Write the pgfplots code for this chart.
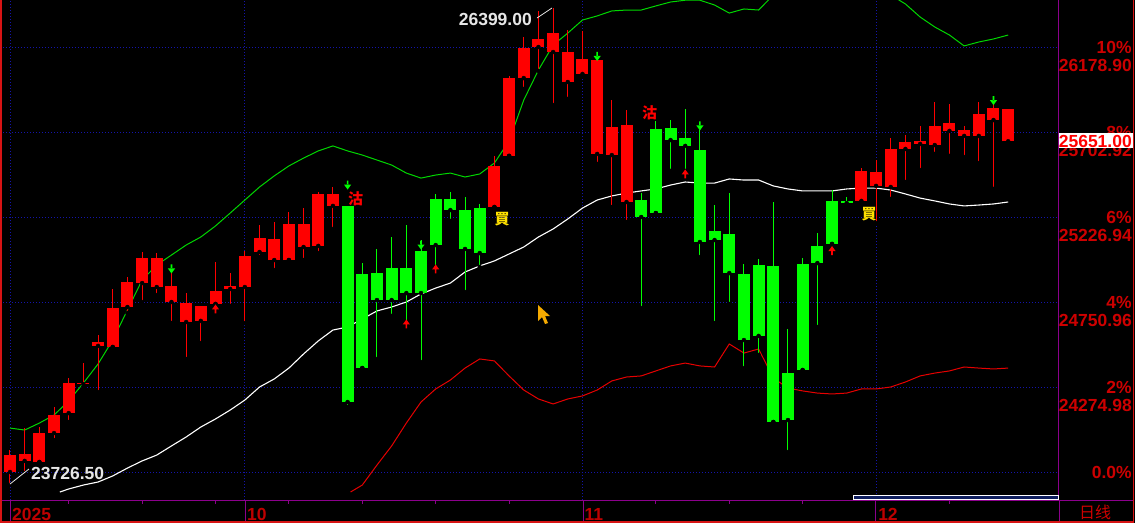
\documentclass[border=0pt]{standalone}
\usepackage{fontspec}
\setmainfont{Liberation Sans}
\newfontfamily\cjk{Noto Sans CJK SC}
\usepackage{pgfplots}
\usepackage{pgfplotstable}
\pgfplotsset{compat=1.18}

\definecolor{upred}{RGB}{255,0,0}
\definecolor{dngreen}{RGB}{0,255,0}
\definecolor{bandgreen}{RGB}{0,215,0}
\definecolor{bandred}{RGB}{230,0,0}
\definecolor{gridblue}{RGB}{20,20,170}
\definecolor{axpurple}{RGB}{140,0,140}
\definecolor{lblred}{RGB}{205,0,0}
\definecolor{monthred}{RGB}{190,0,0}
\definecolor{framered}{RGB}{215,20,20}
\definecolor{sigyellow}{RGB}{255,225,0}
\definecolor{barnavy}{RGB}{15,30,95}
\definecolor{lblgray}{RGB}{230,230,230}
\definecolor{cursor}{RGB}{245,170,0}

% signal arrows
\pgfdeclareplotmark{dnarrow}{%
  \pgfpathrectangle{\pgfpoint{-0.8pt}{0pt}}{\pgfpoint{1.6pt}{4.5pt}}%
  \pgfpathmoveto{\pgfpoint{-3.6pt}{0.5pt}}%
  \pgfpathlineto{\pgfpoint{3.6pt}{0.5pt}}%
  \pgfpathlineto{\pgfpoint{0pt}{-4.5pt}}%
  \pgfpathclose
  \pgfusepathqfill}
\pgfdeclareplotmark{uparrow}{%
  \pgfpathrectangle{\pgfpoint{-0.8pt}{-4.5pt}}{\pgfpoint{1.6pt}{4.5pt}}%
  \pgfpathmoveto{\pgfpoint{-3.6pt}{-0.5pt}}%
  \pgfpathlineto{\pgfpoint{3.6pt}{-0.5pt}}%
  \pgfpathlineto{\pgfpoint{0pt}{4.5pt}}%
  \pgfpathclose
  \pgfusepathqfill}

% i low bodylow bodyhigh high
\pgfplotstableread{
i lo bl bh hi
0 23726.5 23799 23894 23922
1 23793 23861 23900 24045
2 23855 23855 24017 24051
3 23978 24017 24118 24163
4 24079 24129 24297 24325
5 24275 24291 24299 24409
6 24247 24505 24527 24566
7 24499 24499 24717 24824
8 24689 24723 24863 24891
9 24751 24857 24997 25031
10 24790 24835 24997 25025
11 24633 24751 24841 24913
12 24432 24639 24745 24801
13 24521 24645 24729 24729
14 24740 24740 24813 24975
15 24729 24824 24841 24913
16 24633 24835 25009 25037
17 25003 25031 25109 25182
18 24930 24986 25104 25199
19 24986 24986 25188 25255
20 24986 25059 25188 25277
21 25025 25065 25356 25367
22 25160 25289 25356 25395
33 25283 25283 25513 25569
34 25569 25569 26005 26017
35 25944 26005 26173 26235
36 26045 26179 26224 26381
37 25854 26151 26257 26399
38 25888 25983 26151 26274
39 26017 26028 26112 26269
40 25524 25580 26106 26106
41 25283 25574 25731 25882
42 25199 25311 25742 25826
58 25305 25317 25485 25501
59 25193 25401 25479 25546
60 25328 25395 25608 25669
61 25423 25608 25647 25686
62 25490 25636 25653 25737
63 25580 25630 25737 25871
64 25569 25709 25753 25860
65 25563 25681 25714 25737
66 25529 25681 25804 25871
67 25384 25770 25837 25871
68 25641 25651 25832 25832
}\redcandles

\pgfplotstableread{
i lo bl bh hi
23 24163 24191 25289 25289
24 24381 24381 24908 24969
25 24432 24762 24913 25048
26 24673 24762 24941 25115
27 24605 24801 24941 25182
28 24415 24801 25037 25098
29 24947 25070 25328 25356
30 25205 25266 25328 25367
31 24807 25048 25266 25339
32 24947 25025 25277 25300
43 24717 25227 25322 25361
44 25249 25249 25720 25765
45 25485 25658 25725 25770
46 25485 25625 25669 25832
47 25003 25087 25602 25714
48 24633 25098 25149 25294
49 24740 24913 25132 25361
50 24381 24538 24908 24964
51 24454 24561 24958 24992
52 24079 24079 24953 25311
53 23911 24090 24353 24600
54 24370 24370 24964 24997
55 24611 24969 25065 25137
56 25076 25076 25317 25378
57 25289 25305 25317 25339
}\greencandles

\tikzset{pxtext/.style={inner sep=0pt, font=\fontsize{17.5}{18}\selectfont\bfseries}}
% a candle part is one error bar drawn upward from its lower end
\pgfplotsset{
  wick/.style={only marks, mark=none, error bars/y dir=plus, error bars/y explicit,
               error bars/error mark=none,
               error bars/error bar style={#1, line width=1pt}},
  body/.style={only marks, mark=none, error bars/y dir=plus, error bars/y explicit,
               error bars/error mark=none,
               error bars/error bar style={#1, line width=12pt}}
}

\begin{document}
\begin{tikzpicture}
\fill[black] (0,0) rectangle (1135pt,523pt);

\begin{axis}[
    at={(0pt,23pt)}, anchor=south west,
    scale only axis, width=1059pt, height=500pt,
    xmin=-0.681, xmax=71.46,
    ymin=23642.2, ymax=26442.2,
    axis x line*=bottom, axis y line*=right,
    axis line style={axpurple, line width=1pt},
    major tick length=0pt,
    xtick={0,16,39,59},
    xticklabels={2025,10,11,12},
    ytick={23799,24274.98,24750.96,25226.94,25702.92,26178.90},
    yticklabels={0.0\%,2\%,4\%,6\%,8\%,10\%},
    extra y ticks={24274.98,24750.96,25226.94,25702.92,26178.90},
    extra y tick labels={24274.98,24750.96,25226.94,25702.92,26178.90},
    extra y tick style={grid=none, yticklabel style={yshift=-18pt}},
    grid=major,
    grid style={gridblue, dash pattern=on 1pt off 2pt, line width=0.9pt},
    xticklabel style={pxtext, anchor=north west, xshift=2pt, yshift=-8pt, text=monthred},
    yticklabel style={pxtext, anchor=east, xshift=73pt, text=lblred},
  ]

  % bands
  \addplot[bandgreen, line width=1pt, mark=none] coordinates {
    (0,24045) (1,24034) (2,24073) (3,24118) (4,24197) (5,24297) (6,24404)
    (7,24538) (8,24706) (9,24874) (10,24958) (11,25014) (12,25070) (13,25115)
    (14,25177) (15,25249) (16,25322) (17,25395) (18,25457) (19,25513) (20,25557)
    (21,25597) (22,25625) (23,25597) (24,25574) (25,25546) (26,25518) (27,25473)
    (28,25445) (29,25462) (30,25473) (31,25451) (32,25468) (33,25529) (34,25653)
    (35,25882) (36,26050) (37,26190) (38,26257) (39,26330) (40,26353) (41,26381)
    (42,26386) (43,26386) (44,26409) (45,26431) (46,26441) (47,26441) (48,26414)
    (49,26369) (50,26392) (51,26386) (52,26470) (53,26526) (54,26582) (55,26610)
    (56,26610) (57,26599) (58,26565) (59,26526) (60,26470) (61,26420) (62,26347)
    (63,26291) (64,26246) (65,26185) (66,26207) (67,26224) (68,26246)
  };
  \addplot[white, line width=1.1pt, mark=none] coordinates {
    (3.4,23687) (4,23704) (5,23726) (6,23743) (7,23777) (8,23821) (9,23861)
    (10,23894) (11,23945) (12,23995) (13,24051) (14,24096) (15,24146) (16,24202)
    (17,24275) (18,24320) (19,24381) (20,24460) (21,24533) (22,24594) (23,24611)
    (24,24656) (25,24701) (26,24723) (27,24751) (28,24796) (29,24829) (30,24857)
    (31,24919) (32,24953) (33,24981) (34,25020) (35,25059) (36,25115) (37,25160)
    (38,25216) (39,25277) (40,25322) (41,25345) (42,25361) (43,25373) (44,25384)
    (45,25406) (46,25423) (47,25417) (48,25417) (49,25440) (50,25434) (51,25434)
    (52,25401) (53,25384) (54,25373) (55,25373) (56,25373) (57,25384) (58,25389)
    (59,25389) (60,25378) (61,25356) (62,25333) (63,25317) (64,25300) (65,25289)
    (66,25294) (67,25300) (68,25311)
  };
  \addplot[bandred, line width=1pt, mark=none] coordinates {
    (23.2,23687) (24,23726) (25,23838) (26,23945) (27,24073) (28,24191) (29,24264)
    (30,24314) (31,24381) (32,24432) (33,24421) (34,24337) (35,24258) (36,24208)
    (37,24180) (38,24208) (39,24225) (40,24258) (41,24309) (42,24331) (43,24337)
    (44,24365) (45,24393) (46,24409) (47,24393) (48,24387) (49,24516) (50,24465)
    (51,24488) (52,24325) (53,24269) (54,24253) (55,24241) (56,24236) (57,24241)
    (58,24264) (59,24264) (60,24275) (61,24303) (62,24337) (63,24353) (64,24365)
    (65,24387) (66,24381) (67,24376) (68,24381)
  };

  % candles: wicks, then bodies
  \addplot[wick=upred] table[x=i, y=lo,
      y error expr={\thisrow{hi}-\thisrow{lo}}] {\redcandles};
  \addplot[body=upred] table[x=i, y=bl,
      y error expr={\thisrow{bh}-\thisrow{bl}}] {\redcandles};
  \addplot[wick=dngreen] table[x=i, y=lo,
      y error expr={\thisrow{hi}-\thisrow{lo}}] {\greencandles};
  \addplot[body=dngreen] table[x=i, y=bl,
      y error expr={\thisrow{bh}-\thisrow{bl}}] {\greencandles};

  % signal arrows
  \addplot[only marks, mark=dnarrow, color=dngreen, mark options={fill=dngreen, draw=none}]
    coordinates {(11,24936) (23,25406) (28,25070) (40,26126) (47,25737) (67,25879)};
  \addplot[only marks, mark=uparrow, color=upred, mark options={fill=upred, draw=none}]
    coordinates {(14,24712) (27,24628) (29,24936) (46,25468) (56,25039)};
\end{axis}

% overlays in screen pixels (origin top left)
\begin{scope}[x=1pt, y=-1pt, shift={(0pt,523pt)}]
  \draw[axpurple, line width=1pt] (0,500) -- (1133,500);
  \draw[axpurple, line width=1pt] (1059,500) -- (1059,522);
  \foreach \mx in {10.7,245,583,875}
    \draw[axpurple, line width=1pt] (\mx,500) -- (\mx,522);
  \foreach \i in {4,9,14,19,24,29,34,44,49,54,64}
    \draw[axpurple, line width=1pt] ({10+14.68*\i},500) -- ++(0,4);
  \draw[framered, line width=1.5pt] (1,0) -- (1,522) -- (1133.5,522) -- (1133.5,0);
  \draw[white, line width=0.8pt, fill=barnavy] (853,495) rectangle (1058,499.5);

  \node[pxtext, anchor=west, text=lblred, font=\cjk\fontsize{16}{16}\selectfont] at (1079,512) {日线};

  \node[pxtext, anchor=east, text=lblgray] at (532,19) {26399.00};
  \draw[lblgray, line width=0.8pt] (537,18) -- (552,8);
  \node[pxtext, anchor=west, text=lblgray] at (31,473) {23726.50};
  \draw[lblgray, line width=0.8pt] (10,484) -- (29,469);

  \node[text=upred, inner sep=0pt, font=\cjk\bfseries\fontsize{15}{15}\selectfont] at (355.5,198.5) {沽};
  \node[text=upred, inner sep=0pt, font=\cjk\bfseries\fontsize{15}{15}\selectfont] at (649.5,113) {沽};
  \node[text=sigyellow, inner sep=0pt, font=\cjk\bfseries\fontsize{15}{15}\selectfont] at (502,219.5) {買};
  \node[text=sigyellow, inner sep=0pt, font=\cjk\bfseries\fontsize{15}{15}\selectfont] at (869,214.5) {買};

  \fill[white] (1059,133) rectangle (1133,148.5);
  \node[pxtext, anchor=east, text=upred] at (1132,141) {25651.00};

  \fill[cursor] (538,305) -- (538,321) -- (542,317) -- (545,324) -- (548,323)
    -- (545,316) -- (550,316) -- cycle;
\end{scope}

\pgfresetboundingbox
\useasboundingbox (0,0) rectangle (1135pt,523pt);
\end{tikzpicture}
\end{document}
